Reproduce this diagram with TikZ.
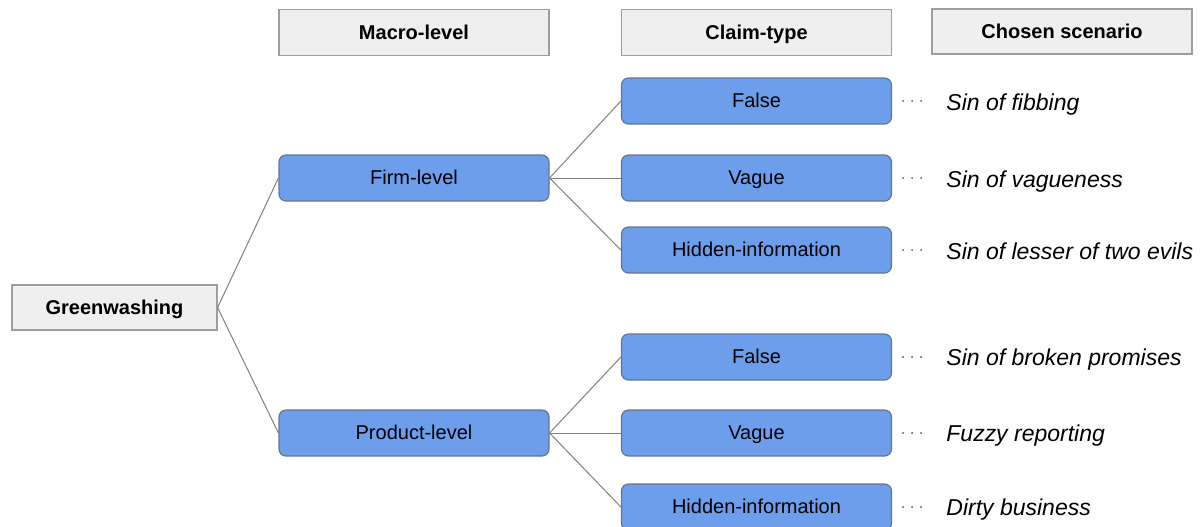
\documentclass[tikz,border=0pt]{standalone}
\usepackage{fontspec}
\setmainfont{Liberation Sans}
\usepackage{tikz}
\usetikzlibrary{positioning}
\definecolor{hdrfill}{HTML}{EFEFEF}
\definecolor{hdrline}{HTML}{9E9E9E}
\definecolor{catfill}{HTML}{6D9EEB}
\definecolor{catline}{HTML}{66768F}
\definecolor{edgegray}{HTML}{808080}
\tikzset{
  hdr/.style  ={rectangle, draw=hdrline, fill=hdrfill, line width=0.6pt,
                inner sep=0pt, minimum width=135pt, minimum height=23pt,
                text height=8pt, text depth=1.2pt,
                font=\fontsize{10}{12}\selectfont\bfseries},
  cat/.style  ={rectangle, rounded corners=3.5pt, draw=catline, fill=catfill,
                line width=0.6pt, inner sep=0pt, minimum width=135pt,
                minimum height=23pt, text height=8pt, text depth=1.2pt,
                font=\fontsize{10}{12}\selectfont},
  scen/.style ={anchor=west, inner sep=0pt, text height=8.3pt, text depth=2.4pt,
                font=\fontsize{11.5}{13}\selectfont\itshape},
  con/.style  ={draw=edgegray, line width=0.5pt},
  dots/.style ={draw=black!65, line width=1.1pt, line cap=round,
                dash pattern=on 0pt off 4.5pt, shorten <=5.5pt, shorten >=10pt},
}
\begin{document}
\begin{tikzpicture}[x=0.5pt,y=-0.5pt]
\useasboundingbox (0,0) rectangle (1200,526);
\clip (0,0) rectangle (1200,526);
% column headers
\node[hdr] (hmac)  at (414,32.5) {Macro-level};
\node[hdr] (hclm)  at (756.5,32.5) {Claim-type};
\node[hdr, minimum width=130pt, minimum height=22.5pt] (hscn) at (1062,31.5) {Chosen scenario};
% tree
\node[hdr, minimum width=102.5pt, minimum height=22.5pt] (green) at (114.5,307.5) {Greenwashing};
\node[cat] (firm)  at (414,178)   {Firm-level};
\node[cat] (prod)  at (414,433)   {Product-level};
\node[cat] (ffal)  at (756.5,101) {False};
\node[cat] (fvag)  at (756.5,178) {Vague};
\node[cat] (fhid)  at (756.5,250) {Hidden-information};
\node[cat] (pfal)  at (756.5,357) {False};
\node[cat] (pvag)  at (756.5,433) {Vague};
\node[cat] (phid)  at (756.5,507) {Hidden-information};
% scenarios
\node[scen] (sfib)  at (946,105) {Sin of fibbing};
\node[scen] (svag)  at (946,182) {Sin of vagueness};
\node[scen] (sles)  at (946,254) {Sin of lesser of two evils};
\node[scen] (sbro)  at (946,360) {Sin of broken promises};
\node[scen] (sfuz)  at (946,436) {Fuzzy reporting};
\node[scen] (sdir)  at (946,510) {Dirty business};
\draw[con] (green.east) -- (firm.west);
\draw[con] (green.east) -- (prod.west);
\foreach \c in {ffal,fvag,fhid} \draw[con] (firm.east) -- (\c.west);
\foreach \c in {pfal,pvag,phid} \draw[con] (prod.east) -- (\c.west);
\draw[dots] (ffal.east) -- (ffal.east -| sfib.west);
\draw[dots] (fvag.east) -- (fvag.east -| svag.west);
\draw[dots] (fhid.east) -- (fhid.east -| sles.west);
\draw[dots] (pfal.east) -- (pfal.east -| sbro.west);
\draw[dots] (pvag.east) -- (pvag.east -| sfuz.west);
\draw[dots] (phid.east) -- (phid.east -| sdir.west);
\end{tikzpicture}
\end{document}
